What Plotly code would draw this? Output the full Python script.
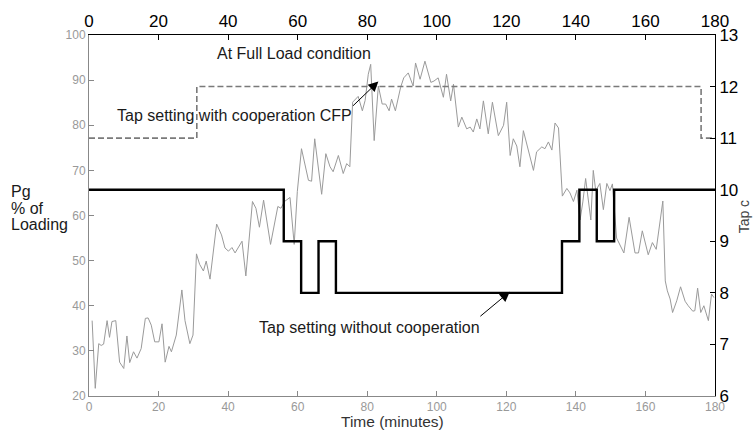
import plotly.graph_objects as go

# Generator loading (% of rating) over the day window
load_time = [0.9, 1.8, 2.8, 3.5, 4.2, 5.2, 5.9, 6.6, 7.7, 8.8, 10.0, 10.9, 11.7, 12.8, 13.8,
             15.0, 16.2, 17.0, 17.9, 18.9, 20.1, 21.0, 21.9, 23.0, 23.7, 25.1, 26.7, 27.6,
             29.0, 29.9, 30.9, 31.8, 32.9, 33.7, 34.8, 36.7, 38.1, 39.1, 40.1, 41.1, 42.0,
             44.0, 45.1, 47.0, 48.0, 49.0, 50.2, 52.2, 54.3, 55.2, 56.2, 57.8, 59.0, 59.9,
             61.1, 63.1, 64.0, 64.9, 66.9, 68.1, 69.3, 70.2, 71.7, 73.1, 74.1, 75.0, 75.8,
             77.4, 78.6, 79.4, 80.3, 81.0, 82.0, 83.2, 84.3, 85.3, 86.3, 87.0, 88.1, 89.6,
             90.5, 91.8, 93.2, 93.9, 95.2, 96.6, 98.3, 99.2, 100.4, 101.9, 102.8, 104.0,
             104.8, 106.2, 107.2, 108.6, 109.6, 110.5, 111.5, 112.4, 113.4, 114.8, 116.0,
             117.7, 119.2, 120.1, 121.1, 122.0, 123.0, 123.9, 124.9, 126.3, 127.8, 128.7,
             130.2, 131.1, 132.1, 133.1, 134.0, 135.0, 136.1, 137.4, 138.3, 139.3, 140.3,
             141.2, 142.0, 142.8, 143.6, 144.3, 145.0, 145.7, 146.9, 147.9, 148.9, 149.8,
             150.5, 151.7, 153.8, 155.3, 157.0, 158.0, 159.1, 160.8, 162.0, 163.1, 165.0,
             165.7, 166.3, 167.1, 167.8, 169.0, 170.1, 171.4, 172.3, 173.6, 174.2, 175.0,
             175.9, 176.8, 178.1, 179.0, 179.7]
load_pct = [36.7, 21.7, 31.6, 31.2, 31.5, 36.7, 33.0, 36.5, 36.7, 27.5, 26.1, 33.3, 27.4, 29.8, 28.4,
            30.5, 37.2, 37.3, 35.7, 32.0, 32.0, 36.0, 27.5, 31.0, 29.8, 33.5, 43.5, 36.7,
            31.6, 33.5, 51.5, 49.2, 47.7, 49.9, 45.9, 58.1, 55.7, 52.8, 52.1, 52.9, 51.7,
            54.3, 46.6, 63.1, 61.6, 57.4, 63.4, 53.6, 62.0, 61.6, 63.1, 64.0, 53.6, 65.3,
            74.8, 67.8, 67.6, 77.0, 64.7, 73.7, 70.8, 69.7, 73.3, 69.3, 71.5, 70.8, 85.1,
            86.4, 83.2, 85.5, 91.3, 93.5, 76.6, 88.7, 84.7, 84.7, 83.2, 85.8, 83.2, 88.4,
            90.5, 91.6, 88.7, 93.8, 90.2, 94.2, 89.5, 89.8, 90.5, 86.2, 91.3, 85.4,
            89.1, 79.6, 81.8, 79.2, 79.6, 78.5, 81.4, 79.2, 85.4, 78.1, 85.1,
            77.7, 80.0, 85.1, 73.3, 77.0, 75.4, 70.8, 78.8, 74.8, 70.0, 74.1,
            75.2, 74.8, 76.3, 74.5, 80.5, 79.4, 64.3, 66.0, 65.0, 63.1, 65.6,
            59.0, 63.0, 68.2, 63.1, 59.0, 70.0, 65.5, 67.1, 61.3, 67.1, 65.5,
            67.0, 55.0, 51.7, 59.6, 51.7, 51.7, 56.6, 51.3, 54.0, 52.5, 63.2,
            45.5, 43.3, 41.5, 38.5, 41.1, 44.2, 41.0, 40.0, 38.8, 38.9, 43.9,
            38.5, 40.0, 36.7, 42.6, 41.8]

# Tap positions (step changes)
tap_coop_time = [0, 31, 176, 180]
tap_coop = [11, 12, 11, 11]
tap_nocoop_time = [0, 56, 61, 66, 71, 136, 141, 146, 151, 180]
tap_nocoop = [10, 9, 8, 9, 8, 9, 10, 9, 10, 10]

# Left-hand axis caption, one entry per line
left_caption = ["Pg", "% of", "Loading"]

x_ticks = list(range(0, 181, 20))
FONT = "Arial, Liberation Sans, sans-serif"

fig = go.Figure()
fig.add_trace(go.Scatter(x=load_time, y=load_pct, mode="lines",
                         line=dict(color="#9a9a9a", width=1), xaxis="x", yaxis="y"))
fig.add_trace(go.Scatter(x=tap_coop_time, y=tap_coop, mode="lines", line_shape="hv",
                         line=dict(color="#7a7a7a", width=1.6, dash="6px,3px"),
                         xaxis="x2", yaxis="y2"))
fig.add_trace(go.Scatter(x=tap_nocoop_time, y=tap_nocoop, mode="lines", line_shape="hv",
                         line=dict(color="black", width=2.4), xaxis="x2", yaxis="y2"))

txt = dict(family=FONT, size=16, color="#1a1a1a")
annotations = [
    dict(x=36.2, y=96.0, xref="x", yref="y", text="At Full Load condition", showarrow=False,
         xanchor="left", yanchor="middle", font=txt),
    dict(x=7.5, y=82.2, xref="x", yref="y", text="Tap setting with cooperation CFP",
         showarrow=False, xanchor="left", yanchor="middle", font=txt),
    dict(x=48.4, y=35.2, xref="x", yref="y", text="Tap setting without cooperation",
         showarrow=False, xanchor="left", yanchor="middle", font=txt),
    dict(x=83.2, y=89.7, xref="x", yref="y", ax=75.5, ay=84.0, axref="x", ayref="y",
         text="", showarrow=True, arrowhead=2, arrowsize=2, arrowwidth=1, arrowcolor="black"),
    dict(x=121.0, y=43.1, xref="x", yref="y", ax=112.1, ay=37.4, axref="x", ayref="y",
         text="", showarrow=True, arrowhead=2, arrowsize=2, arrowwidth=1, arrowcolor="black"),
    dict(x=1.047, y=0.496, xref="paper", yref="paper", text="Tap c", textangle=-90,
         showarrow=False, xanchor="center", yanchor="middle",
         font=dict(family=FONT, size=14, color="#444444")),
    dict(x=0.4856, y=-0.072, xref="paper", yref="paper", text="Time (minutes)",
         showarrow=False, xanchor="center", yanchor="middle",
         font=dict(family=FONT, size=15.5, color="#333333")),
]
for i, line in enumerate(left_caption):
    annotations.append(dict(x=-0.1278, y=0.5671 - i * 0.0466, xref="paper", yref="paper",
                            text=line, showarrow=False, xanchor="left", yanchor="middle",
                            font=dict(family=FONT, size=16, color="#1a1a1a")))

fig.update_layout(
    width=753, height=440,
    margin=dict(l=89, r=38, t=31, b=44),
    paper_bgcolor="white", plot_bgcolor="white",
    showlegend=False,
    font=dict(family=FONT),
    annotations=annotations,
    xaxis=dict(range=[0, 180], tickvals=x_ticks, ticks="inside", ticklen=5, tickcolor="#888888",
               showline=True, linecolor="#888888", linewidth=1, showgrid=False, zeroline=False,
               tickfont=dict(family=FONT, size=12, color="#999999")),
    xaxis2=dict(range=[0, 180], tickvals=x_ticks, ticks="inside", ticklen=5, tickcolor="black",
                overlaying="x", side="top", anchor="y",
                showline=True, linecolor="black", linewidth=1, showgrid=False, zeroline=False,
                tickfont=dict(family=FONT, size=17, color="black")),
    yaxis=dict(range=[20, 100], dtick=10, ticks="inside", ticklen=5, tickcolor="#888888",
               showline=True, linecolor="#888888", linewidth=1, showgrid=False, zeroline=False,
               tickfont=dict(family=FONT, size=12, color="#999999")),
    yaxis2=dict(range=[6, 13], dtick=1, ticks="inside", ticklen=5, tickcolor="black",
                overlaying="y", side="right", anchor="x2",
                showline=True, linecolor="black", linewidth=1, showgrid=False, zeroline=False,
                tickfont=dict(family=FONT, size=17, color="black")),
)

fig.write_html("out.html")
